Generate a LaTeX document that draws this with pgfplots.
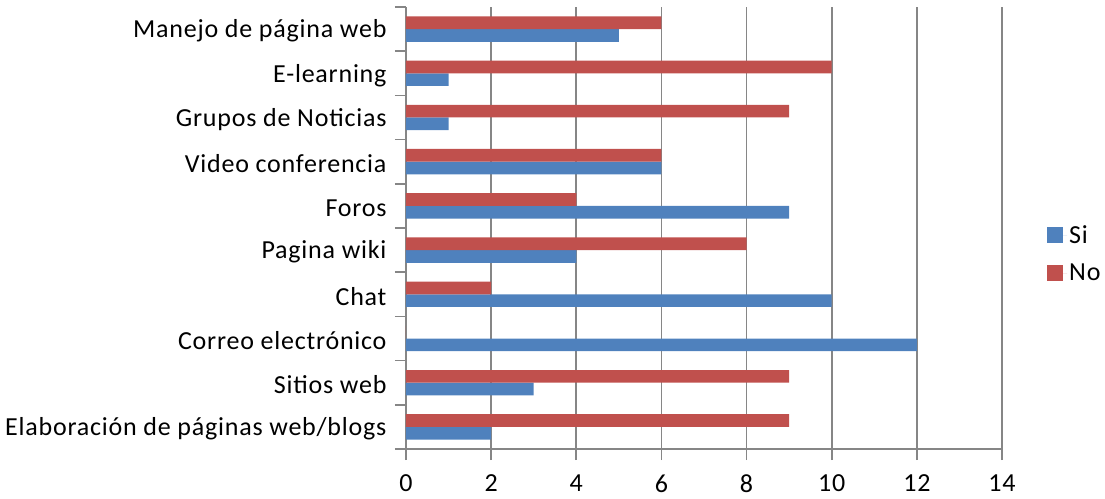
\documentclass[border=0pt]{standalone}
\usepackage{pgfplots}
\pgfplotsset{compat=1.18}
\usepackage{fontspec}
\setmainfont{Carlito}[LetterSpace=3.0]
\definecolor{siblue}{HTML}{4F81BD}
\definecolor{nored}{HTML}{C0504D}
\definecolor{axgray}{HTML}{868686}
\begin{document}
\begin{tikzpicture}
\path[use as bounding box] (-406pt,-49pt) rectangle (699pt,449pt);
\begin{axis}[
    scale only axis,
    width=596pt,
    height=442pt,
    xbar=0pt,
    bar width=12.7pt,
    xmin=0, xmax=14,
    xtick={0,2,...,14},
    ymin=-0.5, ymax=9.5,
    ytick={-0.5,0.5,...,9.5},
    yticklabels={},
    extra y ticks={0,1,...,9},
    extra y tick labels={Elaboración de páginas web/blogs,Sitios web,Correo electrónico,Chat,Pagina wiki,Foros,Video conferencia,Grupos de Noticias,E-learning,Manejo de página web},
    extra y tick style={major tick length=0pt, grid=none},
    axis x line*=bottom,
    axis y line*=left,
    axis line style={axgray, line width=1.6pt},
    tick align=outside,
    major tick length=11pt,
    tick style={axgray, line width=1.6pt},
    xmajorgrids=true,
    grid style={axgray, line width=1.6pt},
    ymajorgrids=false,
    /pgf/number format/assume math mode=true,
    ticklabel style={font=\fontsize{26}{31}\selectfont},
    yticklabel style={xshift=-16pt, yshift=-2pt},
    xticklabel style={yshift=-11pt},
    legend style={at={(1.0755,0.441)}, anchor=west, draw=none, fill=none,
        font=\fontsize{26}{31}\selectfont, row sep=15pt, inner sep=0pt},
    legend cell align=left,
    sq/.style={legend image code/.code={\fill[##1] (0pt,-8pt) rectangle (16pt,8pt); \path (0pt,0pt) -- (20pt,0pt);}},
]
\addplot[fill=siblue, draw=none, sq] coordinates {
    (2,0) (3,1) (12,2) (10,3) (4,4) (9,5) (6,6) (1,7) (1,8) (5,9)
};
\addlegendentry{Si}
\addplot[fill=nored, draw=none, sq] coordinates {
    (9,0) (9,1) (0,2) (2,3) (8,4) (4,5) (6,6) (9,7) (10,8) (6,9)
};
\addlegendentry{No}
\end{axis}
\end{tikzpicture}
\end{document}
